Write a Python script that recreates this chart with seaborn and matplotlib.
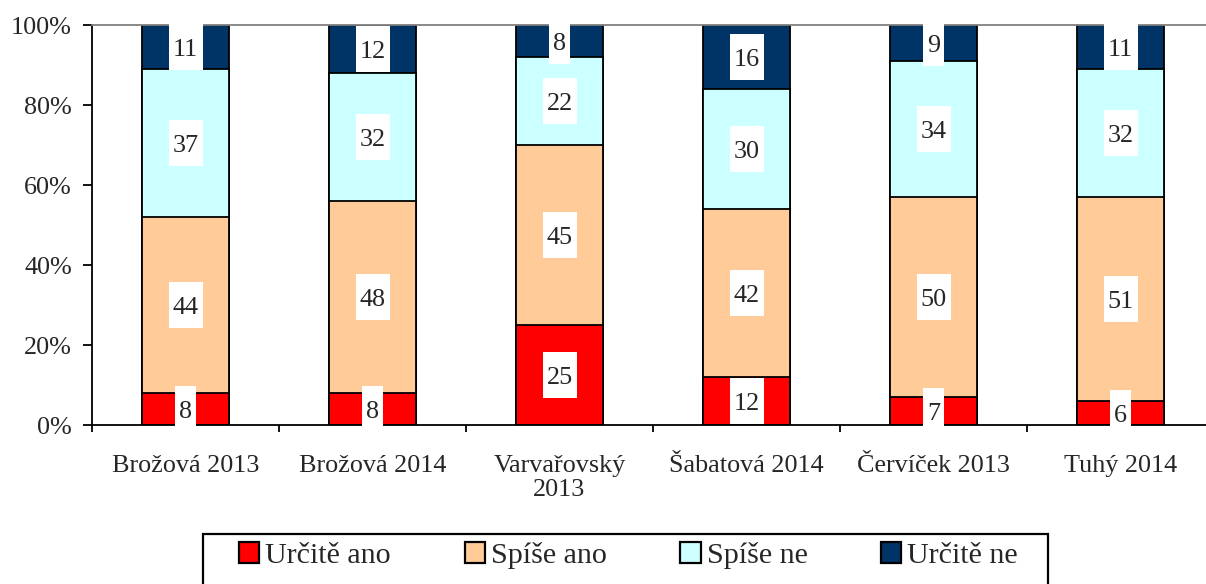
import matplotlib
matplotlib.use("Agg")
import matplotlib.pyplot as plt
import seaborn as sns
import pandas as pd
import numpy as np
from matplotlib.patches import Patch, Rectangle

categories = ["Brožová 2013", "Brožová 2014", "Varvařovský\n2013", "Šabatová 2014", "Červíček 2013", "Tuhý 2014"]
series_names = ["Určitě ano", "Spíše ano", "Spíše ne", "Určitě ne"]
urcite_ano = [8, 8, 25, 12, 7, 6]
spise_ano = [44, 48, 45, 42, 50, 51]
spise_ne = [37, 32, 22, 30, 34, 32]
urcite_ne = [11, 12, 8, 16, 9, 11]
colors = ["#FF0000", "#FFCC99", "#CCFFFF", "#003366"]
ytick_vals = [0, 20, 40, 60, 80, 100]
ytick_labels = ["0%", "20%", "40%", "60%", "80%", "100%"]

sns.set_style("white")
plt.rcParams["font.family"] = ["Liberation Serif", "DejaVu Serif"]
FS = 18.8
plt.rcParams["font.size"] = FS

W, H = 1206, 584
fig = plt.figure(figsize=(W / 100, H / 100), dpi=100)
ax_left, ax_right, ax_top, ax_bot = 92, 1214, 25, 425
ax = fig.add_axes([ax_left / W, 1 - ax_bot / H, (ax_right - ax_left) / W, (ax_bot - ax_top) / H])

series = [urcite_ano, spise_ano, spise_ne, urcite_ne]
cum = np.cumsum(np.array(series), axis=0)
bar_w = 0.46

# overlay cumulative bars from top down
for i in range(len(series) - 1, -1, -1):
    df = pd.DataFrame({"cat": categories, "val": cum[i]})
    sns.barplot(data=df, x="cat", y="val", color=colors[i], width=bar_w,
                edgecolor="black", linewidth=1.3, saturation=1, ax=ax, zorder=2 + (3 - i) * 0.01)

# labels with white boxes
px_per_cat = (ax_right - ax_left) / len(categories)
px_per_pct = (ax_bot - ax_top) / 100
for i, vals in enumerate(series):
    for j, v in enumerate(vals):
        center = cum[i][j] - v / 2
        s = str(v)
        wpx = len(s) * 13 + 8
        hpx = 46
        w = wpx / px_per_cat
        h = hpx / px_per_pct
        ax.add_patch(Rectangle((j - w / 2, center - h / 2), w, h, facecolor="white",
                               edgecolor="none", zorder=5, clip_on=False))
        ax.text(j, center, s, ha="center", va="center_baseline", fontsize=FS, zorder=6)

ax.set_xlim(-0.5, len(categories) - 0.5)
ax.set_ylim(0, 100)
ax.set_yticks(ytick_vals)
ax.set_yticklabels(ytick_labels)
ax.set_xlabel("")
ax.set_ylabel("")
ax.set_xticks(range(len(categories)))
ax.set_xticklabels(categories)
for lab in ax.get_xticklabels():
    lab.set_linespacing(1.1)
ax.set_xticks(np.arange(-0.5, len(categories), 1), minor=True)
ax.tick_params(axis="x", which="major", length=0, pad=21.5)
ax.tick_params(axis="x", which="minor", length=5, width=1.3, direction="out", color="black", bottom=True)
ax.tick_params(axis="y", which="major", length=6.5, width=1.3, direction="out", color="black", left=True, pad=8)
ax.spines["right"].set_visible(False)
ax.spines["top"].set_color("#808080")
ax.spines["top"].set_linewidth(1.3)
for side in ["left", "bottom"]:
    ax.spines[side].set_color("black")
    ax.spines[side].set_linewidth(1.3)
ax.grid(False)

# legend frame
fig.patches.append(Rectangle((203 / W, -0.05), (1048 - 203) / W, 0.05 + (H - 534) / H,
                             transform=fig.transFigure, facecolor="white", edgecolor="black",
                             linewidth=1.6, zorder=0))
handles = [Patch(facecolor=c, edgecolor="black", linewidth=1.6, label=n) for c, n in zip(colors, series_names)]
LFS = 21.6
leg = fig.legend(handles=handles, loc="upper left", bbox_to_anchor=(239 / W, 1 - 542 / H),
                 ncol=4, frameon=False, fontsize=LFS,
                 handlelength=0.68, handleheight=0.68, handletextpad=0.2, columnspacing=2.45,
                 borderpad=0, borderaxespad=0)

fig.savefig("out.png", dpi=100)
